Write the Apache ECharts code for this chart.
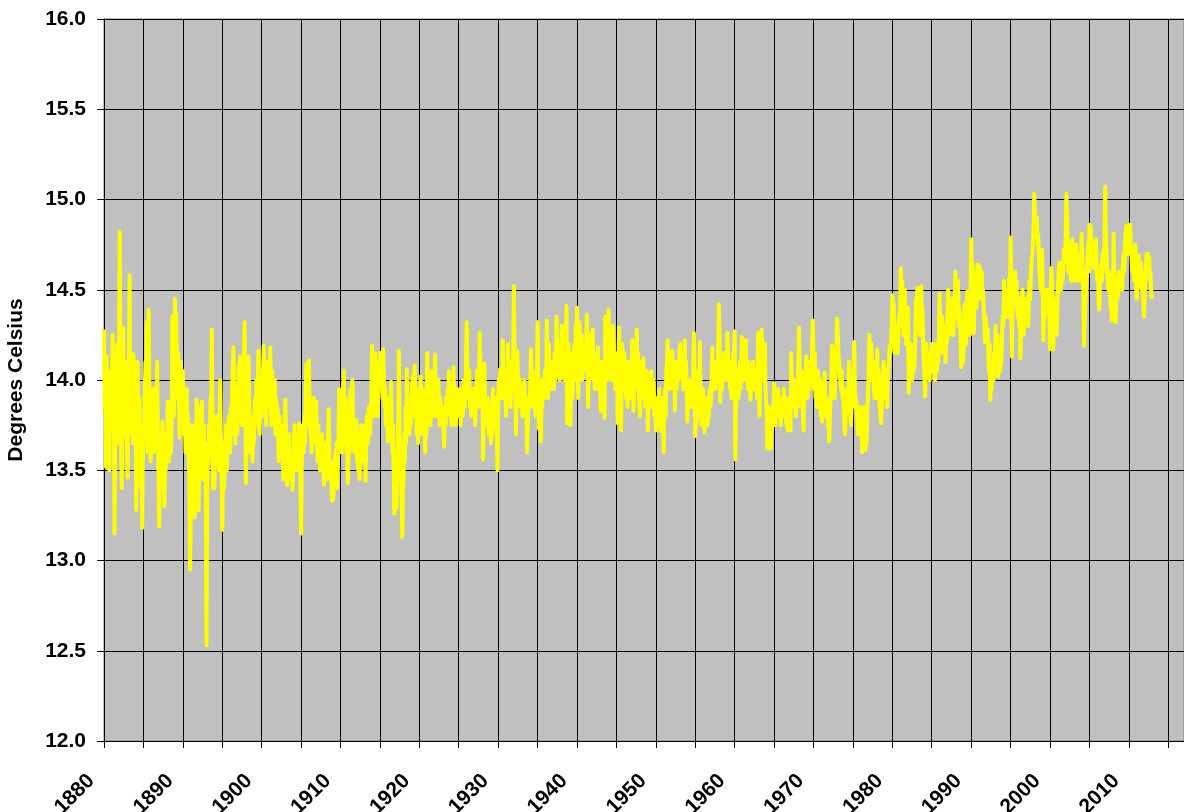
<!DOCTYPE html>
<html lang="en">
<head>
    <meta charset="UTF-8">
    <title>Global monthly temperature</title>
    <script type="text/javascript" src="https://cdn.jsdelivr.net/npm/echarts@6/dist/echarts.min.js"></script>
    <style>
        html, body { margin: 0; padding: 0; background: #fff; }
        #chart { width: 1184px; height: 812px; }
    </style>
</head>
<body>
<div id="chart"></div>
<script>
    // monthly values, Jan..Dec, one row per year
    var startYear = 1880;

    var t1880s = [
        14.28, 13.85, 13.95, 13.52, 14.13, 13.90, 13.75, 14.05, 13.50, 13.88, 13.72, 14.00,
        13.80, 14.25, 13.95, 14.10, 13.15, 13.70, 13.95, 13.85, 14.20, 13.65, 13.90, 14.05,
        14.82, 14.00, 13.75, 13.40, 13.85, 14.29, 14.00, 13.90, 13.70, 14.10, 13.85, 13.60,
        13.46, 13.95, 14.10, 14.58, 13.90, 13.70, 14.15, 13.85, 13.65, 14.14, 13.95, 13.75,
        13.80, 13.28, 13.70, 14.10, 13.85, 13.55, 13.90, 13.60, 13.40, 13.75, 13.18, 13.55,
        13.55, 13.70, 13.90, 14.10, 13.75, 14.32, 13.85, 13.60, 14.39, 13.95, 13.65, 13.55,
        13.55, 13.80, 13.70, 13.95, 13.60, 13.85, 13.75, 13.65, 13.90, 14.10, 13.70, 13.45,
        13.19, 13.50, 13.65, 13.40, 13.60, 13.77, 13.55, 13.45, 13.30, 13.60, 13.50, 13.70,
        13.60, 13.88, 13.70, 13.55, 13.65, 13.80, 13.60, 13.75, 14.35, 13.95, 13.80, 13.90,
        14.45, 14.20, 14.37, 14.05, 13.90, 14.15, 13.95, 13.68, 13.85, 14.10, 13.80, 13.95
    ];
    var t1890s = [
        14.05, 13.90, 13.70, 13.85, 13.60, 13.75, 13.95, 13.65, 13.80, 13.55, 13.45, 12.95,
        13.25, 13.55, 13.75, 13.60, 13.45, 13.70, 13.24, 13.50, 13.65, 13.89, 13.55, 13.40,
        13.28, 13.60, 13.85, 13.50, 13.70, 13.88, 13.60, 13.45, 13.75, 13.55, 13.65, 13.40,
        12.53, 13.30, 13.65, 13.55, 13.75, 13.60, 13.90, 13.70, 14.28, 13.85, 13.40, 13.65,
        13.40, 13.60, 13.70, 13.80, 13.55, 13.65, 13.75, 13.50, 13.85, 14.00, 13.70, 13.60,
        13.17, 13.45, 13.65, 13.40, 13.60, 13.55, 13.75, 13.50, 13.70, 13.65, 13.80, 13.70,
        13.60, 13.85, 13.70, 13.95, 14.05, 14.18, 13.90, 13.80, 13.65, 13.95, 13.75, 13.70,
        13.85, 14.08, 13.90, 14.13, 13.80, 13.95, 13.75, 14.00, 13.85, 14.10, 14.32, 14.00,
        13.43, 13.70, 13.85, 13.75, 14.13, 13.90, 13.60, 13.80, 13.65, 13.75, 13.55, 13.70,
        13.65, 13.80, 13.90, 13.75, 14.00, 13.85, 13.95, 14.16, 13.80, 13.70, 13.90, 13.85
    ];
    var t1900s = [
        13.80, 13.95, 14.05, 14.19, 13.90, 13.85, 14.00, 13.75, 13.95, 14.10, 13.85, 14.00,
        13.95, 14.18, 13.90, 13.75, 14.05, 13.85, 13.95, 13.80, 14.00, 13.70, 13.90, 13.80,
        13.85, 13.75, 13.55, 13.80, 13.70, 13.65, 13.75, 13.60, 13.70, 13.45, 13.65, 13.75,
        13.89, 13.70, 13.60, 13.42, 13.65, 13.55, 13.70, 13.50, 13.60, 13.45, 13.55, 13.39,
        13.50, 13.60, 13.75, 13.55, 13.65, 13.50, 13.70, 13.60, 13.55, 13.76, 13.60, 13.45,
        13.15, 13.55, 13.70, 13.75, 13.60, 13.80, 13.65, 13.90, 14.09, 13.85, 13.75, 13.95,
        14.11, 13.85, 13.70, 13.80, 13.60, 13.75, 13.65, 13.90, 13.70, 13.85, 13.75, 13.88,
        13.70, 13.55, 13.75, 13.60, 13.70, 13.50, 13.65, 13.55, 13.70, 13.60, 13.50, 13.42,
        13.55, 13.65, 13.50, 13.60, 13.45, 13.70, 13.84, 13.60, 13.50, 13.55, 13.45, 13.33,
        13.50, 13.34, 13.55, 13.45, 13.60, 13.50, 13.65, 13.40, 13.55, 13.70, 13.95, 13.60
    ];
    var t1910s = [
        13.94, 13.70, 13.85, 13.60, 13.75, 14.05, 13.80, 13.65, 13.90, 13.70, 13.60, 13.43,
        13.55, 13.70, 13.60, 13.95, 13.75, 13.65, 14.00, 13.80, 13.70, 13.60, 13.75, 13.65,
        13.78, 13.55, 13.65, 13.50, 13.70, 13.45, 13.60, 13.75, 13.65, 13.55, 13.70, 13.60,
        13.65, 13.75, 13.44, 13.60, 13.80, 13.70, 13.65, 13.85, 13.75, 13.70, 13.80, 13.90,
        14.19, 13.90, 13.85, 14.05, 13.80, 14.15, 13.95, 13.85, 14.00, 13.80, 14.10, 13.95,
        14.05, 14.15, 13.95, 14.10, 13.90, 14.17, 14.00, 13.85, 13.95, 13.75, 13.90, 13.85,
        13.66, 13.80, 13.90, 13.75, 13.85, 13.99, 13.70, 13.60, 13.75, 13.50, 13.26, 13.45,
        13.55, 13.29, 13.45, 13.60, 13.80, 14.16, 13.70, 13.45, 13.55, 13.35, 13.13, 13.40,
        13.45, 13.70, 13.55, 13.85, 13.65, 14.06, 13.80, 13.75, 13.90, 13.70, 13.85, 13.75,
        13.85, 13.95, 14.02, 13.80, 13.90, 14.08, 13.85, 13.95, 13.70, 13.90, 13.65, 13.80
    ];
    var t1920s = [
        13.75, 13.90, 14.02, 13.85, 13.70, 13.85, 13.95, 13.75, 13.80, 13.60, 13.85, 13.70,
        14.15, 13.90, 14.00, 13.80, 13.95, 13.75, 13.90, 14.05, 13.85, 13.95, 13.80, 13.90,
        14.14, 13.85, 13.95, 13.80, 13.90, 14.00, 13.85, 13.75, 13.90, 13.85, 13.80, 13.85,
        13.80, 13.70, 13.63, 13.85, 13.75, 13.90, 13.80, 13.95, 13.85, 14.05, 13.90, 13.95,
        13.85, 13.75, 13.95, 13.80, 14.07, 13.85, 13.90, 13.75, 13.85, 13.95, 13.80, 13.90,
        13.85, 13.80, 13.95, 13.75, 13.85, 13.90, 13.80, 13.95, 14.00, 13.85, 13.95, 14.05,
        14.32, 14.10, 14.00, 13.90, 14.05, 13.85, 13.90, 13.80, 13.95, 13.85, 13.95, 13.90,
        13.85, 13.75, 13.90, 13.95, 14.05, 13.85, 13.95, 13.90, 14.26, 14.05, 13.95, 13.85,
        14.05, 13.56, 13.80, 14.09, 13.90, 13.80, 13.85, 13.75, 13.90, 13.85, 13.70, 13.80,
        13.80, 13.65, 13.70, 13.85, 13.95, 13.80, 13.85, 13.75, 13.90, 13.70, 13.80, 13.50
    ];
    var t1930s = [
        13.85, 14.00, 13.90, 14.06, 13.95, 14.05, 13.90, 14.22, 13.95, 13.90, 14.05, 14.00,
        13.80, 13.95, 14.00, 14.20, 13.90, 14.05, 13.95, 13.85, 14.10, 13.95, 14.00, 14.15,
        14.52, 14.10, 14.00, 13.70, 13.90, 14.16, 14.05, 13.95, 13.90, 14.00, 13.85, 13.95,
        13.90, 13.80, 13.95, 13.85, 14.00, 13.80, 13.90, 13.85, 13.60, 13.75, 13.85, 13.90,
        13.85, 14.00, 14.17, 13.95, 14.05, 13.90, 13.85, 14.00, 13.95, 13.80, 14.05, 13.95,
        14.32, 14.05, 13.73, 13.95, 14.00, 13.66, 13.90, 13.85, 14.00, 13.95, 13.90, 14.05,
        14.00, 13.95, 14.33, 14.10, 13.90, 14.20, 14.05, 13.95, 14.10, 14.00, 13.95, 14.10,
        14.05, 13.95, 14.15, 14.00, 14.20, 14.35, 14.10, 14.05, 14.15, 14.20, 14.00, 14.10,
        14.15, 14.30, 14.05, 14.20, 14.10, 14.00, 14.25, 14.15, 14.41, 13.76, 14.05, 14.20,
        14.10, 13.95, 13.75, 14.00, 14.15, 13.90, 14.05, 14.10, 14.20, 14.00, 14.30, 14.25
    ];
    var t1940s = [
        14.40, 14.05, 13.90, 14.20, 14.32, 14.10, 14.15, 14.25, 14.00, 14.10, 14.20, 14.05,
        14.15, 14.05, 14.20, 14.36, 14.10, 13.85, 14.15, 14.00, 14.10, 14.25, 14.05, 14.20,
        14.28, 14.00, 14.10, 13.95, 14.05, 14.00, 14.15, 14.05, 14.18, 13.95, 14.10, 14.00,
        13.83, 14.05, 13.95, 14.10, 13.90, 14.00, 13.79, 14.35, 14.05, 14.15, 14.00, 14.20,
        14.39, 14.15, 14.05, 14.25, 14.00, 14.20, 14.10, 14.30, 14.15, 14.05, 13.95, 14.10,
        14.00, 14.15, 13.76, 14.05, 14.29, 14.10, 13.95, 13.72, 14.00, 14.20, 14.05, 13.95,
        14.15, 14.10, 14.00, 13.90, 14.05, 13.85, 14.00, 14.10, 13.95, 14.05, 13.90, 14.00,
        14.22, 14.00, 13.83, 14.05, 13.95, 14.10, 14.00, 14.28, 14.05, 14.15, 13.95, 13.85,
        13.80, 14.00, 14.10, 13.95, 14.05, 14.12, 13.90, 14.00, 13.85, 13.95, 14.05, 13.90,
        13.72, 13.95, 14.00, 13.90, 13.85, 14.05, 13.95, 13.85, 14.00, 13.90, 13.80, 13.85
    ];
    var t1950s = [
        13.72, 13.80, 13.90, 13.75, 13.85, 13.95, 13.80, 13.72, 13.90, 13.85, 13.75, 13.80,
        13.60, 13.85, 13.95, 13.80, 14.05, 14.10, 14.22, 14.00, 14.10, 13.95, 14.05, 14.15,
        14.00, 14.16, 14.05, 13.95, 14.10, 13.83, 14.00, 14.05, 13.95, 14.10, 14.00, 14.05,
        14.15, 14.20, 14.05, 14.10, 14.00, 14.15, 13.95, 14.05, 14.22, 14.00, 14.10, 13.95,
        13.77, 13.95, 14.00, 13.85, 13.95, 13.90, 13.85, 14.00, 13.90, 14.05, 14.26, 13.90,
        13.69, 13.85, 13.75, 13.90, 14.05, 13.95, 13.80, 14.21, 13.90, 13.85, 13.75, 13.85,
        13.95, 13.80, 13.71, 13.85, 13.90, 13.80, 13.85, 13.75, 13.90, 13.80, 13.95, 13.85,
        13.90, 14.05, 14.18, 14.00, 13.95, 14.10, 14.05, 13.95, 14.10, 14.00, 14.05, 14.15,
        14.42, 14.20, 13.88, 14.10, 14.05, 13.95, 14.10, 14.00, 14.15, 14.05, 14.10, 14.00,
        14.05, 14.26, 14.10, 14.00, 14.05, 13.95, 14.10, 13.90, 14.05, 14.00, 14.15, 14.10
    ];
    var t1960s = [
        14.27, 13.56, 13.80, 14.00, 13.95, 14.05, 13.90, 14.00, 14.10, 13.95, 14.05, 14.24,
        14.05, 14.15, 14.00, 14.10, 14.05, 14.22, 14.00, 14.05, 13.95, 14.10, 13.95, 14.00,
        13.89, 14.05, 14.00, 13.95, 14.10, 14.00, 14.05, 13.95, 14.05, 14.00, 13.90, 14.10,
        14.26, 13.95, 13.80, 14.05, 14.10, 14.28, 14.15, 14.00, 14.10, 14.05, 14.20, 13.95,
        13.95, 13.80, 13.62, 13.75, 13.85, 13.70, 13.80, 13.62, 13.70, 13.75, 13.80, 13.85,
        13.98, 13.85, 13.75, 13.90, 13.80, 13.85, 13.95, 13.80, 13.85, 13.90, 13.75, 13.85,
        13.80, 13.90, 13.85, 13.95, 13.80, 13.90, 13.85, 13.75, 13.80, 13.72, 13.85, 13.90,
        13.90, 13.72, 14.15, 13.95, 13.85, 13.90, 14.00, 13.85, 13.95, 13.80, 13.85, 14.00,
        13.95, 14.10, 14.29, 14.00, 13.90, 13.85, 14.05, 13.95, 13.80, 13.72, 13.90, 14.00,
        13.95, 14.13, 14.05, 13.90, 14.00, 14.10, 13.95, 14.05, 14.10, 14.00, 14.20, 14.33
    ];
    var t1970s = [
        14.10, 13.95, 14.15, 13.90, 14.00, 13.85, 13.95, 14.05, 13.90, 13.85, 14.00, 13.80,
        13.90, 13.77, 13.85, 13.80, 13.95, 14.04, 13.85, 13.80, 13.90, 13.85, 13.75, 13.80,
        13.66, 13.80, 13.90, 13.95, 14.19, 14.00, 13.95, 14.05, 13.90, 14.00, 14.10, 14.20,
        14.34, 14.25, 14.15, 14.10, 14.05, 14.00, 13.95, 14.05, 13.90, 13.95, 13.85, 13.75,
        13.70, 13.80, 13.85, 13.95, 13.90, 13.85, 14.10, 13.90, 13.80, 13.75, 13.85, 13.85,
        13.90, 14.05, 14.21, 13.95, 13.85, 13.90, 13.85, 13.75, 13.70, 13.80, 13.70, 13.75,
        13.85, 13.75, 13.60, 13.80, 13.70, 13.75, 13.85, 13.61, 13.75, 13.65, 13.85, 13.90,
        14.05, 14.25, 14.10, 14.15, 14.20, 14.00, 14.05, 14.10, 13.95, 13.90, 14.05, 13.90,
        14.00, 14.17, 13.95, 14.05, 13.90, 13.85, 13.80, 13.76, 13.90, 13.95, 14.05, 14.10,
        14.00, 13.90, 14.05, 13.95, 13.85, 14.00, 14.05, 14.10, 14.19, 14.15, 14.20, 14.30
    ];
    var t1980s = [
        14.47, 14.25, 14.43, 14.20, 14.15, 14.25, 14.30, 14.20, 14.15, 14.22, 14.35, 14.30,
        14.45, 14.62, 14.40, 14.55, 14.35, 14.25, 14.40, 14.50, 14.30, 14.20, 14.30, 14.35,
        14.40, 13.93, 14.10, 14.05, 14.20, 14.10, 14.00, 14.05, 14.15, 14.05, 14.10, 14.25,
        14.45, 14.30, 14.51, 14.35, 14.40, 14.30, 14.25, 14.35, 14.52, 14.30, 14.40, 14.20,
        14.20, 14.00, 13.91, 14.10, 14.20, 14.05, 14.15, 14.10, 14.05, 14.00, 14.15, 14.10,
        14.20, 14.05, 14.15, 14.10, 14.20, 14.00, 14.10, 14.15, 14.05, 14.20, 14.10, 14.25,
        14.48, 14.25, 14.30, 14.20, 14.35, 14.15, 14.25, 14.30, 14.20, 14.10, 14.25, 14.20,
        14.35, 14.50, 14.30, 14.25, 14.40, 14.35, 14.45, 14.30, 14.35, 14.25, 14.40, 14.45,
        14.60, 14.35, 14.45, 14.40, 14.55, 14.30, 14.40, 14.35, 14.20, 14.07, 14.15, 14.25,
        14.10, 14.25, 14.42, 14.30, 14.20, 14.35, 14.49, 14.40, 14.30, 14.35, 14.25, 14.45
    ];
    var t1990s = [
        14.78, 14.55, 14.65, 14.45, 14.26, 14.50, 14.45, 14.60, 14.40, 14.55, 14.64, 14.50,
        14.45, 14.63, 14.50, 14.55, 14.60, 14.45, 14.50, 14.40, 14.35, 14.21, 14.35, 14.30,
        14.30, 14.28, 14.15, 14.05, 14.20, 13.89, 14.00, 13.95, 14.05, 14.10, 14.00, 14.15,
        14.10, 14.30, 14.20, 14.15, 14.25, 14.02, 14.10, 14.15, 14.05, 14.20, 14.10, 14.25,
        14.35, 14.30, 14.55, 14.40, 14.45, 14.35, 14.50, 14.40, 14.35, 14.45, 14.56, 14.40,
        14.79, 14.55, 14.13, 14.45, 14.40, 14.59, 14.50, 14.60, 14.45, 14.55, 14.40, 14.35,
        14.40, 14.30, 14.45, 14.12, 14.30, 14.40, 14.50, 14.35, 14.25, 14.40, 14.35, 14.45,
        14.35, 14.45, 14.40, 14.30, 14.50, 14.55, 14.45, 14.60, 14.65, 14.70, 14.75, 14.85,
        15.03, 14.95, 14.80, 14.88, 14.90, 14.75, 14.80, 14.70, 14.60, 14.55, 14.50, 14.60,
        14.72, 14.45, 14.22, 14.40, 14.35, 14.45, 14.50, 14.39, 14.45, 14.40, 14.50, 14.35
    ];
    var t2000s = [
        14.17, 14.45, 14.62, 14.55, 14.40, 14.17, 14.35, 14.45, 14.40, 14.30, 14.25, 14.35,
        14.50, 14.60, 14.65, 14.55, 14.60, 14.50, 14.65, 14.55, 14.60, 14.72, 14.65, 14.70,
        14.80, 15.03, 14.90, 14.75, 14.60, 14.65, 14.75, 14.60, 14.55, 14.65, 14.78, 14.60,
        14.70, 14.65, 14.55, 14.60, 14.75, 14.60, 14.55, 14.65, 14.60, 14.70, 14.65, 14.55,
        14.81, 14.70, 14.60, 14.45, 14.19, 14.35, 14.45, 14.50, 14.60, 14.65, 14.75, 14.60,
        14.86, 14.70, 14.85, 14.75, 14.65, 14.70, 14.62, 14.66, 14.70, 14.75, 14.78, 14.60,
        14.55, 14.60, 14.45, 14.39, 14.50, 14.60, 14.65, 14.55, 14.70, 14.60, 14.72, 14.75,
        15.07, 14.80, 14.72, 14.60, 14.55, 14.50, 14.60, 14.55, 14.40, 14.45, 14.33, 14.40,
        14.45, 14.81, 14.55, 14.40, 14.32, 14.45, 14.50, 14.45, 14.55, 14.60, 14.50, 14.55,
        14.55, 14.60, 14.50, 14.65, 14.70, 14.60, 14.75, 14.80, 14.85, 14.70, 14.75, 14.70
    ];
    var t2010s = [
        14.86, 14.80, 14.86, 14.75, 14.70, 14.60, 14.65, 14.70, 14.55, 14.60, 14.75, 14.55,
        14.45, 14.50, 14.60, 14.69, 14.55, 14.60, 14.65, 14.55, 14.50, 14.60, 14.45, 14.35,
        14.45, 14.55, 14.65, 14.70, 14.60, 14.70, 14.65, 14.68, 14.55, 14.60, 14.50, 14.45
    ];

    var yTicks = [12.0, 12.5, 13.0, 13.5, 14.0, 14.5, 15.0, 15.5, 16.0];

    var temps = [].concat(t1880s, t1890s, t1900s, t1910s, t1920s, t1930s, t1940s,
        t1950s, t1960s, t1970s, t1980s, t1990s, t2000s, t2010s);

    var seriesData = temps.map(function (v, i) {
        return [startYear + i / 12, v];
    });

    var labelFont = {
        fontFamily: '"Liberation Sans", Arial, sans-serif',
        fontWeight: 'bold',
        fontSize: 21,
        color: '#000'
    };

    var mychart = echarts.init(document.getElementById('chart'), null, {renderer: 'canvas'});
    var option = {
        backgroundColor: '#ffffff',
        animation: false,
        grid: {
            left: 104,
            right: 0,
            top: 19,
            bottom: 71,
            containLabel: false,
            outerBoundsMode: 'none',
            show: true,
            backgroundColor: '#c0c0c0',
            borderColor: '#808080',
            borderWidth: 1
        },
        xAxis: {
            type: 'value',
            min: 1880,
            max: 2017,
            interval: 5,
            axisLine: {show: true, onZero: false, lineStyle: {color: '#000', width: 1}},
            axisTick: {show: true, length: 7, lineStyle: {color: '#000'}},
            splitLine: {show: true, lineStyle: {color: '#000', width: 1}},
            axisLabel: Object.assign({
                rotate: 45,
                margin: 24,
                padding: [0, 18, 0, 0],
                showMaxLabel: false,
                formatter: function (v) {
                    return v % 10 === 0 ? String(v) : '';
                }
            }, labelFont)
        },
        yAxis: {
            type: 'value',
            min: yTicks[0],
            max: yTicks[yTicks.length - 1],
            interval: 0.5,
            name: 'Degrees Celsius',
            nameLocation: 'middle',
            nameRotate: 90,
            nameGap: 77,
            nameTextStyle: {
                fontFamily: '"Liberation Sans", Arial, sans-serif',
                fontWeight: 'bold',
                fontSize: 21,
                color: '#000'
            },
            axisLine: {show: true, lineStyle: {color: '#000', width: 1}},
            axisTick: {show: true, length: 7, lineStyle: {color: '#000'}},
            splitLine: {show: true, lineStyle: {color: '#000', width: 1}},
            axisLabel: Object.assign({
                margin: 18,
                formatter: function (v) {
                    return v.toFixed(1);
                }
            }, labelFont)
        },
        series: [{
            type: 'line',
            data: seriesData,
            showSymbol: false,
            symbol: 'none',
            smooth: false,
            lineStyle: {color: '#ffff00', width: 4, join: 'round'},
            itemStyle: {color: '#ffff00'}
        }]
    };
    mychart.setOption(option);
</script>
</body>
</html>
